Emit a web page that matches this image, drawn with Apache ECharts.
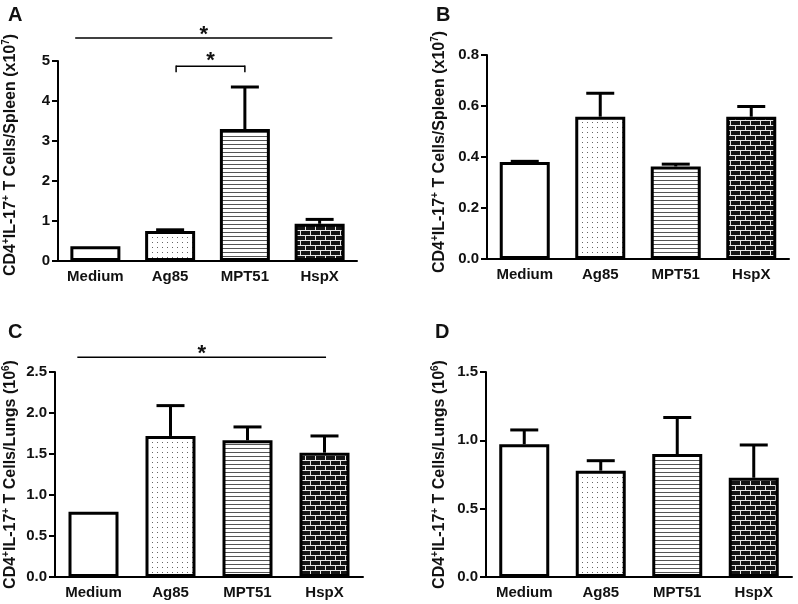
<!DOCTYPE html>
<html>
<head>
<meta charset="utf-8">
<script src="https://cdn.jsdelivr.net/npm/echarts@6/dist/echarts.min.js"></script>
<style>html,body{margin:0;padding:0;background:#fff;}#c{width:798px;height:604px;}</style>
</head>
<body>
<div id="c"></div>
<script>
// ---- data ----
const categories = ['Medium', 'Ag85', 'MPT51', 'HspX'];
const spleenA = [0.37, 0.75, 3.30, 0.93];
const spleenAUpper = [0.37, 0.78, 4.35, 1.04];
const spleenB = [0.38, 0.558, 0.363, 0.558];
const spleenBUpper = [0.383, 0.65, 0.372, 0.598];
const lungsC = [0.795, 1.72, 1.667, 1.516];
const lungsCUpper = [0.795, 2.09, 1.83, 1.72];
const lungsD = [0.971, 0.778, 0.90, 0.726];
const lungsDUpper = [1.076, 0.851, 1.167, 0.966];
const yTicksA = [0, 1, 2, 3, 4, 5];
const yTicksB = [0.0, 0.2, 0.4, 0.6, 0.8];
const yTicksC = [0.0, 0.5, 1.0, 1.5, 2.0, 2.5];
const yTicksD = [0.0, 0.5, 1.0, 1.5];
// significance annotations: [fromIndex, toIndex, yValue, kind]
const sigA = [[-0.27, 3.17, 5.575, 'line'], [1.08, 2.0, 4.87, 'bracket']];
const sigC = [[-0.21, 3.02, 2.68, 'line']];

const FONT = "'Liberation Sans', Arial, sans-serif";

function makeCanvas(w, h, draw) {
  const c = document.createElement('canvas');
  c.width = w; c.height = h;
  const g = c.getContext('2d');
  draw(g);
  return c;
}
const patWhite = '#ffffff';
const patDots = { image: makeCanvas(5, 5, g => { g.fillStyle = '#fff'; g.fillRect(0,0,5,5); g.fillStyle = '#666'; g.fillRect(2,2,1,1); }), repeat: 'repeat' };
const patLines = { image: makeCanvas(4, 4, g => { g.fillStyle = '#fff'; g.fillRect(0,0,4,4); g.fillStyle = '#555'; g.fillRect(0,0,4,1); }), repeat: 'repeat' };
const patBrick = { image: makeCanvas(10, 10, g => { g.fillStyle = '#151515'; g.fillRect(0,0,10,10); g.fillStyle = '#e8e8e8'; g.fillRect(0,0,10,1); g.fillRect(0,5,10,1); g.fillRect(0,0,1,5); g.fillRect(5,5,1,5); }), repeat: 'repeat' };
const patterns = [patWhite, patDots, patLines, patBrick];

const grids = [
  { left: 55, top: 61, width: 302, height: 200 },
  { left: 487, top: 55, width: 302, height: 204 },
  { left: 55, top: 372, width: 308, height: 205 },
  { left: 486, top: 372, width: 306, height: 205 }
];
const yCfg = [
  { ticks: yTicksA, dec: 0, name: ['Spleen', 'x10', '7'] },
  { ticks: yTicksB, dec: 1, name: ['Spleen', 'x10', '7'] },
  { ticks: yTicksC, dec: 1, name: ['Lungs', '10', '6'] },
  { ticks: yTicksD, dec: 1, name: ['Lungs', '10', '6'] }
];
const values = [spleenA, spleenB, lungsC, lungsD];
const uppers = [spleenAUpper, spleenBUpper, lungsCUpper, lungsDUpper];
const sigs = [sigA, [], sigC, []];
const nameGaps = [37, 37, 34, 36];
const namePads = [[0,0,0,12], [0,0,0,10], [0,0,0,0], [0,0,0,0]];

const xAxis = [], yAxis = [], series = [];
grids.forEach((gr, k) => {
  xAxis.push({
    type: 'category', gridIndex: k, data: categories,
    axisLine: { lineStyle: { color: '#000', width: 2 } },
    axisTick: { alignWithLabel: true, length: 6, lineStyle: { color: '#000', width: 2 } },
    axisLabel: { color: '#111', fontFamily: FONT, fontWeight: 'bold', fontSize: 15, margin: 8 }
  });
  const t = yCfg[k].ticks;
  const nm = yCfg[k].name;
  yAxis.push({
    type: 'value', gridIndex: k, min: t[0], max: t[t.length - 1], interval: t[1] - t[0],
    splitLine: { show: false },
    axisLine: { show: true, lineStyle: { color: '#000', width: 2 } },
    axisTick: { show: true, length: 6, lineStyle: { color: '#000', width: 2 } },
    axisLabel: { color: '#111', fontFamily: FONT, fontWeight: 'bold', fontSize: 15, margin: 8,
      formatter: v => v.toFixed(yCfg[k].dec) },
    name: '{n|CD4}{s|+}{n|IL-17}{s|+}{n| T Cells/' + nm[0] + ' (' + nm[1] + '}{s|' + nm[2] + '}{n|)}',
    nameLocation: 'middle', nameGap: nameGaps[k],
    nameTextStyle: {
      padding: namePads[k],
      rich: {
        n: { fontFamily: FONT, fontWeight: 'bold', fontSize: 16, color: '#111', lineHeight: 20 },
        s: { fontFamily: FONT, fontWeight: 'bold', fontSize: 10, color: '#111', verticalAlign: 'top', lineHeight: 20 }
      }
    }
  });
  series.push({
    type: 'bar', xAxisIndex: k, yAxisIndex: k, barWidth: 50,
    data: values[k].map((v, i) => ({ value: v, itemStyle: { color: patterns[i] } })),
    itemStyle: { borderColor: '#000', borderWidth: 3 },
    emphasis: { disabled: true }, silent: true, animation: false
  });
  series.push({
    type: 'custom', xAxisIndex: k, yAxisIndex: k, clip: false, silent: true, animation: false,
    data: values[k].map((v, i) => [i, v, uppers[k][i]]),
    renderItem: (params, api) => {
      const p0 = api.coord([api.value(0), api.value(1)]);
      const p1 = api.coord([api.value(0), api.value(2)]);
      if (Math.abs(p0[1] - p1[1]) < 0.5) return { type: 'group', children: [] };
      const st = { stroke: '#000', lineWidth: 3 };
      return { type: 'group', children: [
        { type: 'line', shape: { x1: p0[0], y1: p0[1], x2: p1[0], y2: p1[1] }, style: st },
        { type: 'line', shape: { x1: p1[0] - 14, y1: p1[1], x2: p1[0] + 14, y2: p1[1] }, style: st }
      ] };
    },
    z: 3
  });
  if (sigs[k].length) {
    series.push({
      type: 'custom', xAxisIndex: k, yAxisIndex: k, clip: false, silent: true, animation: false,
      data: sigs[k].map(s => [s[0], s[1], s[2], s[3] === 'bracket' ? 1 : 0]),
      renderItem: (params, api) => {
        const bw = api.size([1, 0])[0];
        const base = api.coord([0, api.value(2)]);
        const xa = base[0] + api.value(0) * bw;
        const xb = base[0] + api.value(1) * bw;
        const y = base[1];
        const st = { stroke: '#000', lineWidth: 1.5 };
        const ch = [{ type: 'line', shape: { x1: xa, y1: y, x2: xb, y2: y }, style: st }];
        const br = api.value(3) === 1;
        if (br) {
          ch.push({ type: 'line', shape: { x1: xa, y1: y - 0.75, x2: xa, y2: y + 6 }, style: st });
          ch.push({ type: 'line', shape: { x1: xb, y1: y - 0.75, x2: xb, y2: y + 6 }, style: st });
        }
        ch.push({ type: 'text', style: { text: '*', x: (xa + xb) / 2, y: y + (br ? 6 : 8), align: 'center', verticalAlign: 'bottom',
          font: 'bold 22px ' + FONT, fill: '#111' } });
        return { type: 'group', children: ch };
      }
    });
  }
});

const labels = [['A', 8, 5], ['B', 436, 5], ['C', 8, 322], ['D', 435, 322]];
const graphic = labels.map(l => ({ type: 'text', left: l[1], top: l[2],
  style: { text: l[0], font: 'bold 20px ' + FONT, fill: '#111' } }));

const chart = echarts.init(document.getElementById('c'), null, { renderer: 'canvas' });
chart.setOption({ animation: false, backgroundColor: '#fff', grid: grids, xAxis, yAxis, series, graphic });
</script>
</body>
</html>
